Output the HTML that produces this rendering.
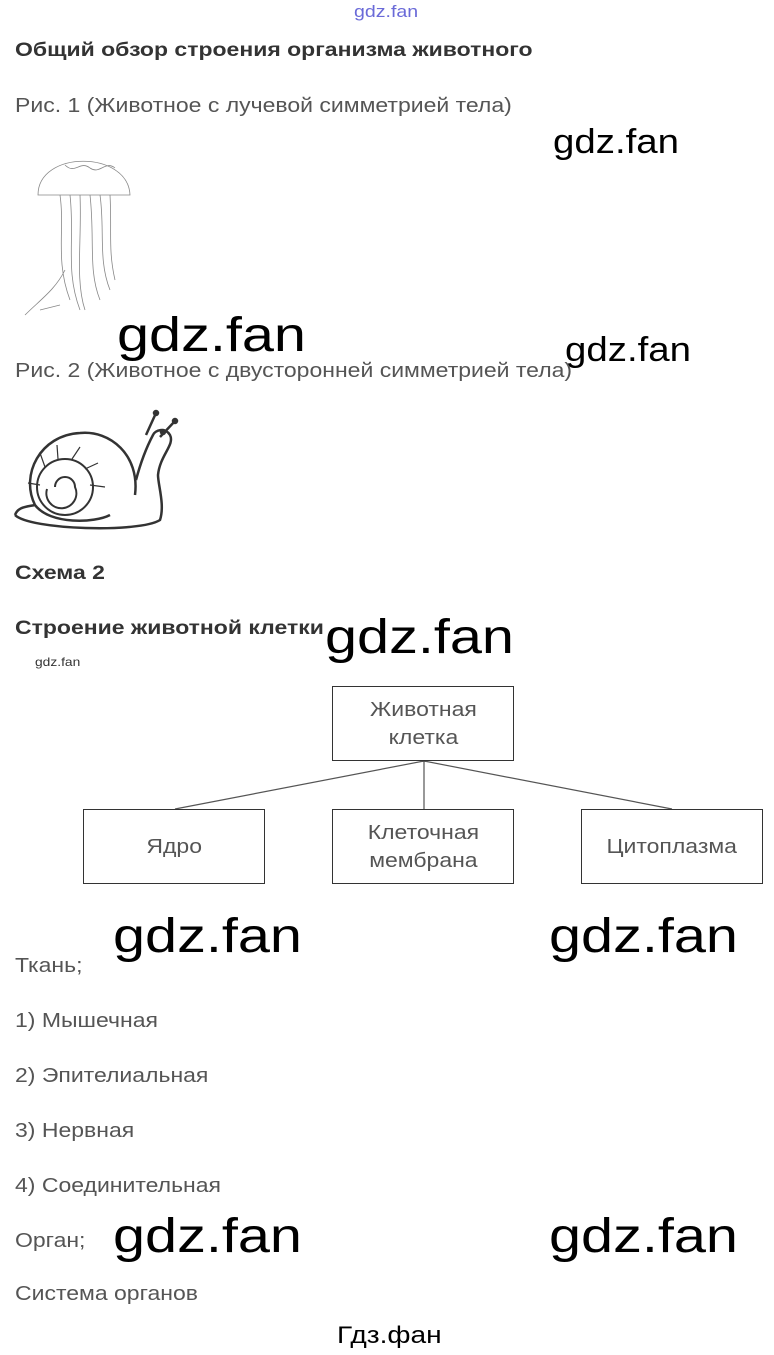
<!DOCTYPE html>
<html><head><meta charset="utf-8"><style>
body{margin:0;width:774px;height:1355px;background:#fff;position:relative;overflow:hidden;font-family:"Liberation Sans",Arial,sans-serif}
.t{position:absolute;white-space:nowrap;line-height:1;transform-origin:0 0;transform:scaleX(1.15)}
.g{color:#555;font-size:20px}
.w{color:#000}
.bw{font-size:48px;transform:scaleX(1.2)}
.b{position:absolute;border:1.5px solid #333;box-sizing:border-box;display:flex;align-items:center;justify-content:center;text-align:center;color:#555;font-size:20px;line-height:28px}
.b span{display:inline-block;transform:scaleX(1.15)}
</style></head><body>
<div class="t" style="left:354px;top:3px;font-size:17px;color:#6a6ad8">gdz.fan</div>
<div class="t" style="left:15px;top:41px;font-size:19px;font-weight:bold;color:#333;transform:scaleX(1.21)">Общий обзор строения организма животного</div>
<div class="t g" style="left:15px;top:96px">Рис. 1 (Животное с лучевой симметрией тела)</div>
<div class="t w" style="left:553px;top:125px;font-size:34px;transform:scaleX(1.13)">gdz.fan</div>
<svg style="position:absolute;left:20px;top:150px" width="120" height="170" fill="none" stroke="#888" stroke-width="0.8">
<path d="M18,45 C18,0 108,0 110,45 Z"/>
<path d="M45,15 C55,25 60,10 70,18 C80,25 85,10 95,18"/>
<path d="M40,45 C45,80 35,110 50,150 M50,45 C55,90 45,120 60,160 M60,45 C62,90 55,130 65,160 M70,45 C75,90 68,120 80,150 M80,45 C85,80 78,110 90,140 M90,45 C92,80 88,100 95,130 M45,120 C35,140 20,150 5,165 M20,160 L40,155"/>
</svg>
<div class="t w bw" style="left:117px;top:312px">gdz.fan</div>
<div class="t w" style="left:565px;top:333px;font-size:34px;transform:scaleX(1.13)">gdz.fan</div>
<div class="t g" style="left:15px;top:361px">Рис. 2 (Животное с двусторонней симметрией тела)</div>
<svg style="position:absolute;left:10px;top:405px" width="180" height="130" fill="none" stroke="#333" stroke-width="2.5">
<path d="M5,110 C20,125 130,128 150,115 C155,100 148,80 148,70 C150,50 165,40 160,30 C155,22 145,25 143,30 C135,45 130,60 126,75"/>
<path d="M136,30 L146,8 M150,32 L165,16"/>
<circle cx="146" cy="8" r="2" fill="#333"/><circle cx="165" cy="16" r="2" fill="#333"/><circle cx="153" cy="27" r="2" fill="#333"/>
<path d="M5,110 C8,102 15,102 25,100"/>
<path d="M125,90 C130,50 100,25 70,28 C30,30 10,70 25,100 C40,120 85,118 100,110"/>
<circle cx="55" cy="82" r="28" stroke-width="2"/>
<path d="M55,82 m-10,0 a10,10 0 1 1 20,0 a15,15 0 1 1 -28,2" stroke-width="2"/>
<path d="M35,62 L30,48 M48,54 L47,40 M62,54 L70,42 M75,64 L88,58 M80,80 L95,82 M30,80 L18,78" stroke-width="1.2"/>
</svg>
<div class="t" style="left:15px;top:564px;font-size:19px;font-weight:bold;color:#333;transform:scaleX(1.21)">Схема 2</div>
<div class="t" style="left:15px;top:619px;font-size:19px;font-weight:bold;color:#333;transform:scaleX(1.21)">Строение животной клетки</div>
<div class="t w bw" style="left:325px;top:614px">gdz.fan</div>
<div class="t" style="left:35px;top:656px;font-size:12px;color:#333">gdz.fan</div>
<svg style="position:absolute;left:0;top:0" width="774" height="900" stroke="#555" stroke-width="1.2"><path d="M424,761 L175,809 M424,761 L424,809 M424,761 L672,809"/></svg>
<div class="b" style="left:332px;top:686px;width:182px;height:75px"><span>Животная<br>клетка</span></div>
<div class="b" style="left:83px;top:809px;width:182px;height:75px"><span>Ядро</span></div>
<div class="b" style="left:332px;top:809px;width:182px;height:75px"><span>Клеточная<br>мембрана</span></div>
<div class="b" style="left:581px;top:809px;width:182px;height:75px"><span>Цитоплазма</span></div>
<div class="t w bw" style="left:113px;top:913px">gdz.fan</div>
<div class="t w bw" style="left:549px;top:913px">gdz.fan</div>
<div class="t g" style="left:15px;top:956px">Ткань;</div>
<div class="t g" style="left:15px;top:1011px">1) Мышечная</div>
<div class="t g" style="left:15px;top:1066px">2) Эпителиальная</div>
<div class="t g" style="left:15px;top:1121px">3) Нервная</div>
<div class="t g" style="left:15px;top:1176px">4) Соединительная</div>
<div class="t g" style="left:15px;top:1231px">Орган;</div>
<div class="t w bw" style="left:113px;top:1213px">gdz.fan</div>
<div class="t w bw" style="left:549px;top:1213px">gdz.fan</div>
<div class="t g" style="left:15px;top:1284px">Система органов</div>
<div class="t w" style="left:337px;top:1324px;font-size:24px;transform:scaleX(1.17)">Гдз.фан</div>
</body></html>
